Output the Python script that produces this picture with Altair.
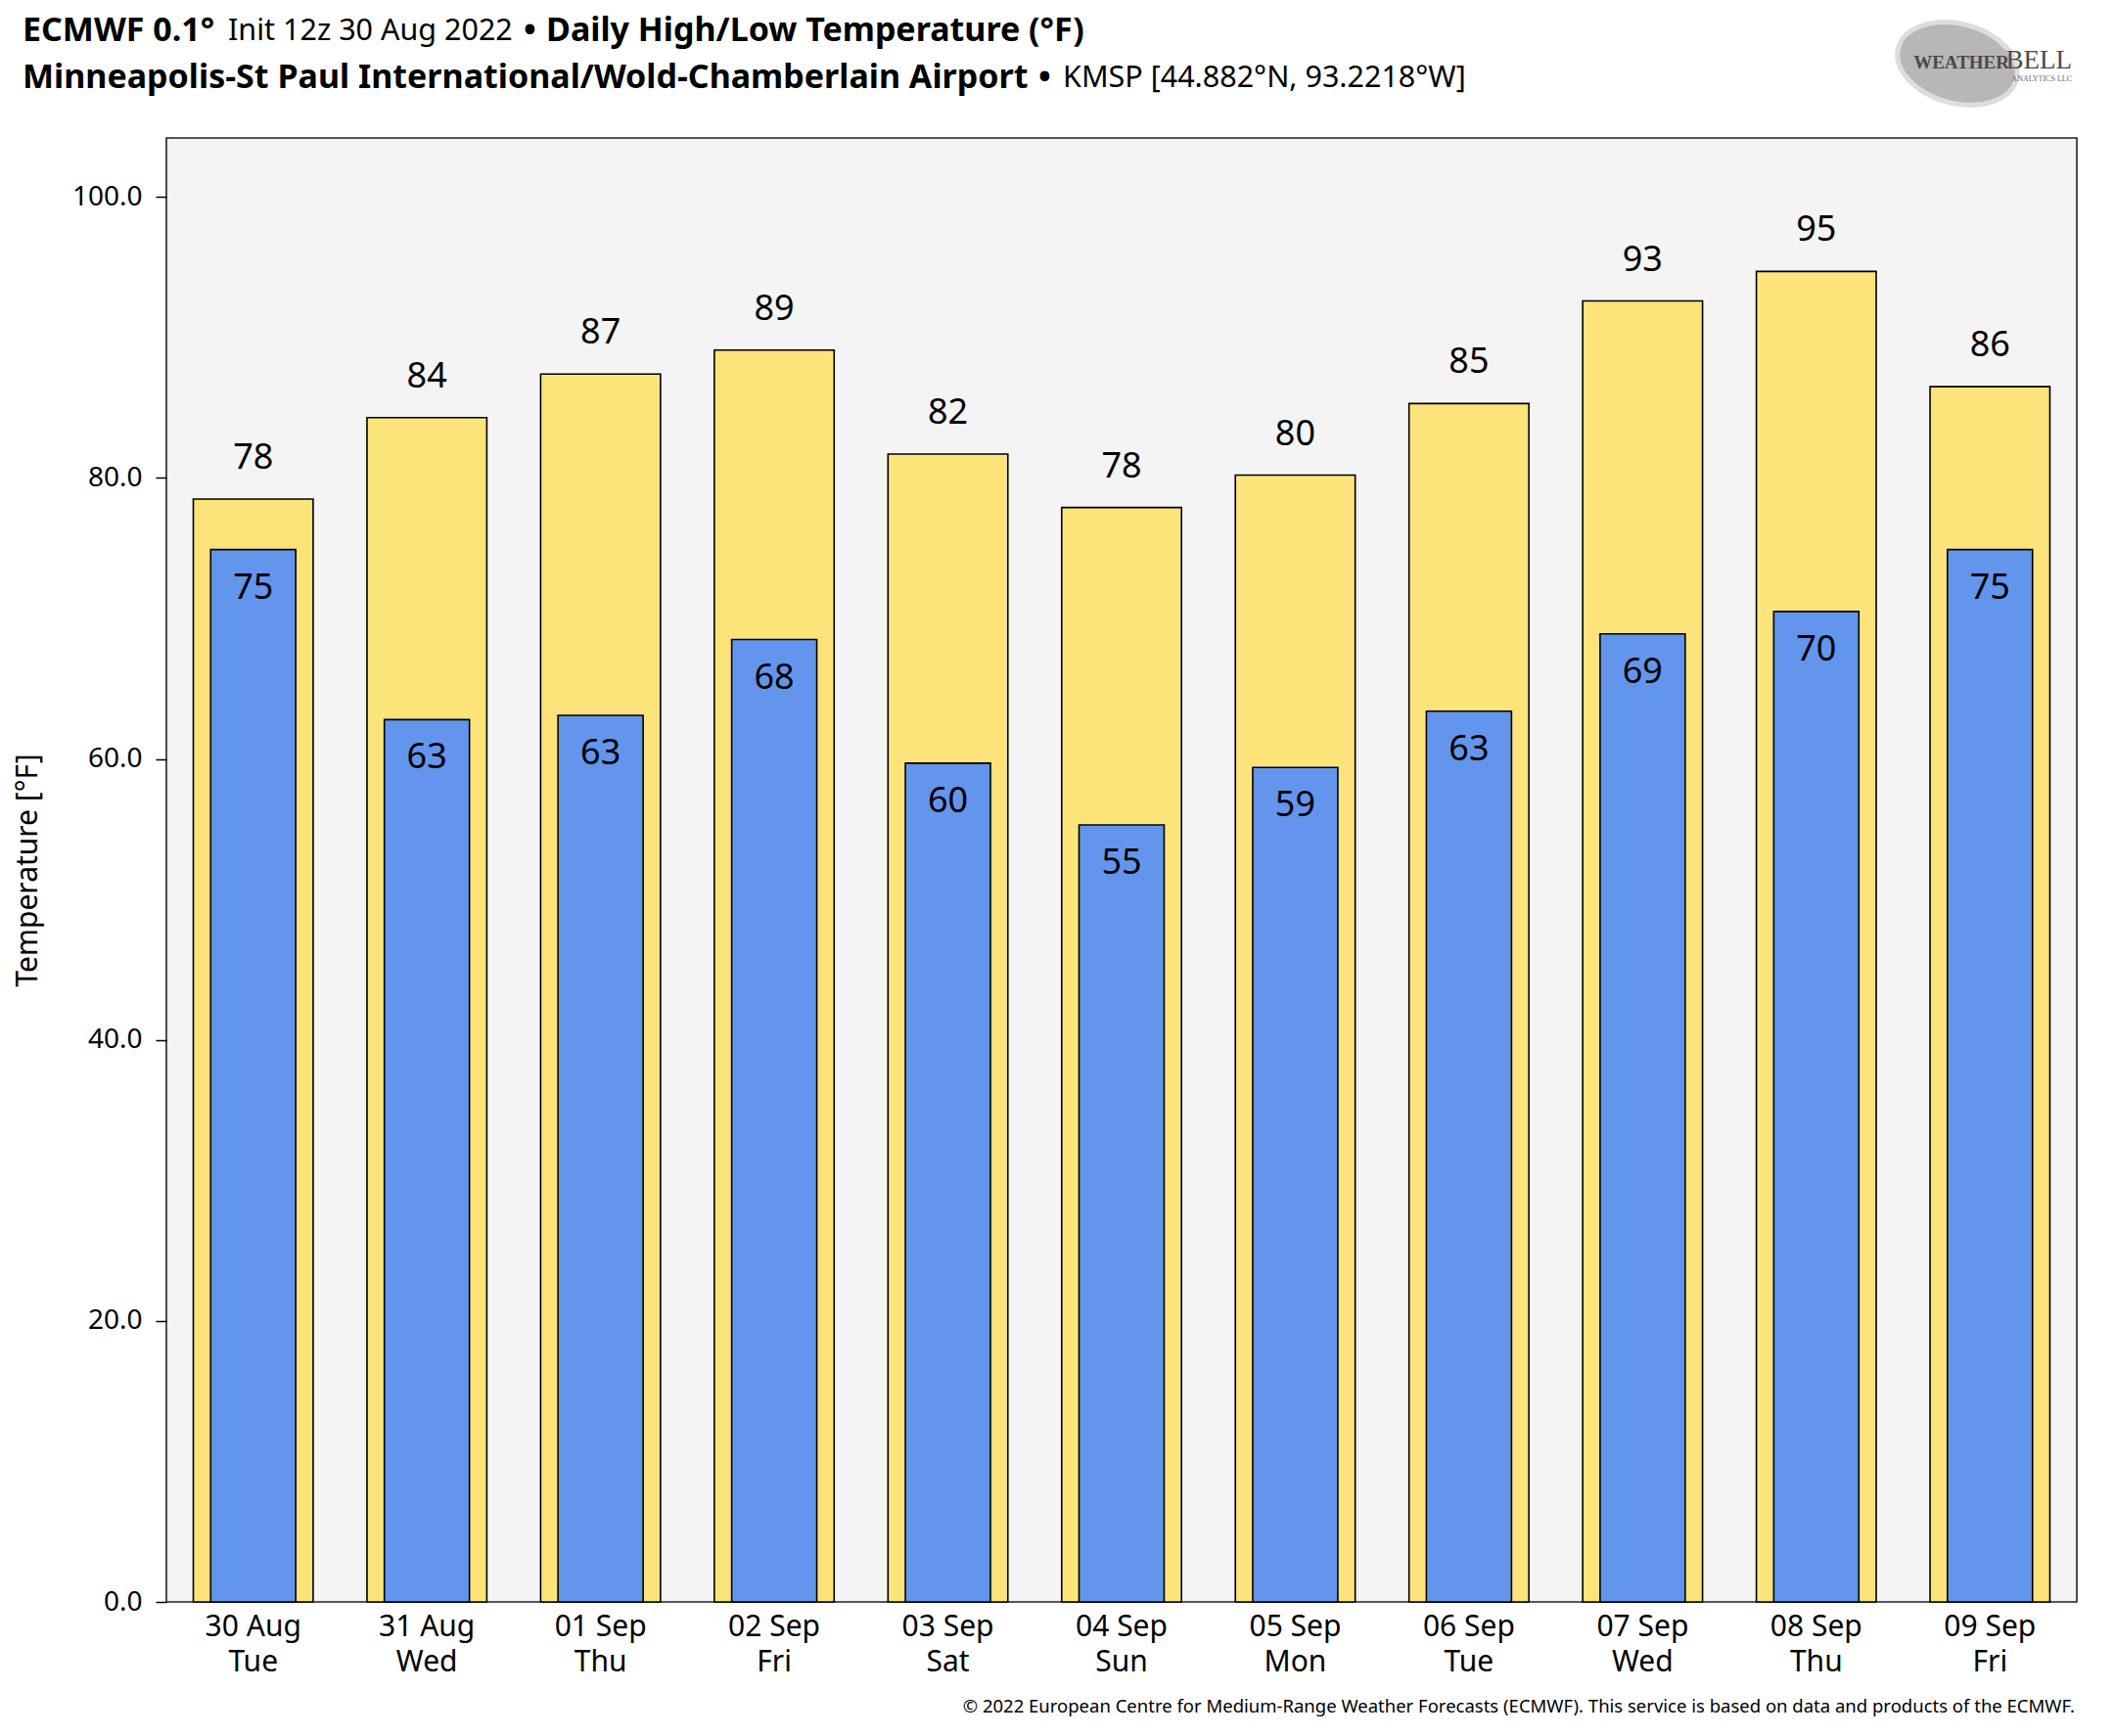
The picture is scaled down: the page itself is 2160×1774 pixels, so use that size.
import altair as alt
import pandas as pd

dates = ["30 Aug", "31 Aug", "01 Sep", "02 Sep", "03 Sep", "04 Sep",
         "05 Sep", "06 Sep", "07 Sep", "08 Sep", "09 Sep"]
days = ["Tue", "Wed", "Thu", "Fri", "Sat", "Sun", "Mon", "Tue", "Wed", "Thu", "Fri"]
highs = [78.5, 84.3, 87.4, 89.1, 81.7, 77.9, 80.2, 85.3, 92.6, 94.7, 86.5]
lows = [74.9, 62.8, 63.1, 68.5, 59.7, 55.3, 59.4, 63.4, 68.9, 70.5, 74.9]
high_labels = ["78", "84", "87", "89", "82", "78", "80", "85", "93", "95", "86"]
low_labels = ["75", "63", "63", "68", "60", "55", "59", "63", "69", "70", "75"]
y_ticks = [0, 20, 40, 60, 80, 100]

cats = [f"{d}|{w}" for d, w in zip(dates, days)]
df = pd.DataFrame({"cat": cats, "high": highs, "low": lows,
                   "hl": high_labels, "ll": low_labels})

W, H = 1952, 1496
FONT = "Noto Sans"

x = alt.X("cat:N", sort=cats, title=None,
          scale=alt.Scale(paddingInner=0, paddingOuter=0),
          axis=alt.Axis(labelExpr="split(datum.label, '|')", labelAngle=0,
                        labelFontSize=30, labelColor="black", labelFont=FONT,
                        labelLineHeight=36, labelPadding=10, ticks=False,
                        domain=False, labelBaseline="top"))
yscale = alt.Scale(domain=[0, 104.2], nice=False, zero=True)
yaxis = alt.Axis(values=y_ticks, format=".1f", grid=False, domain=False,
                 tickSize=11, tickColor="black", tickWidth=1.5,
                 labelFontSize=28, labelColor="black", labelFont=FONT, labelPadding=14,
                 title="Temperature [°F]", titleFontSize=30, titleFontWeight="normal",
                 titleFont=FONT, titleColor="black", titleX=-142, titleY=H / 2,
                 titleAngle=270, titleAlign="center", titleBaseline="middle")

base = alt.Chart(df)
high_bars = base.mark_bar(width=alt.RelativeBandSize(0.69), color="#FDE47A",
                          stroke="black", strokeWidth=1.6).encode(
    x=x, y=alt.Y("high:Q", scale=yscale, axis=yaxis))
low_bars = base.mark_bar(width=alt.RelativeBandSize(0.49), color="#6495ED",
                         stroke="black", strokeWidth=1.6).encode(
    x=x, y=alt.Y("low:Q", scale=yscale))
high_text = base.mark_text(fontSize=36, font=FONT, baseline="alphabetic", dy=-31,
                           color="black").encode(
    x=x, y=alt.Y("high:Q", scale=yscale), text="hl:N")
low_text = base.mark_text(fontSize=36, font=FONT, baseline="alphabetic", dy=50,
                          color="black").encode(
    x=x, y=alt.Y("low:Q", scale=yscale), text="ll:N")


def label(text, xp, yp, size, weight="normal", align="left", color="black",
          font=FONT, baseline="middle"):
    return alt.Chart(pd.DataFrame({"t": [text]})).mark_text(
        fontSize=size, fontWeight=weight, align=align, baseline=baseline,
        color=color, font=font).encode(
        x=alt.value(xp), y=alt.value(yp), text="t:N")


TB, TN = 34, 30.5
title_parts = [
    label("ECMWF 0.1°", -147, -109, TB, "bold"),
    label("Init 12z 30 Aug 2022", 63, -109, TN),
    label("•", 365, -109, TB, "bold"),
    label("Daily High/Low Temperature (°F)", 388, -109, TB, "bold"),
    label("Minneapolis-St Paul International/Wold-Chamberlain Airport", -147, -61, TB, "bold"),
    label("•", 891, -61, TB, "bold"),
    label("KMSP [44.882°N, 93.2218°W]", 916, -61, TN),
    label("© 2022 European Centre for Medium-Range Weather Forecasts (ECMWF). "
          "This service is based on data and products of the ECMWF.",
          W - 2, H + 107, 18.5, align="right"),
]

logo_ellipse = alt.Chart(pd.DataFrame({"t": [1]})).mark_point(
    shape="M-1,0A1,0.65 0 1,0 1,0A1,0.65 0 1,0 -1,0Z", filled=True,
    color="#B0B0B0", opacity=0.9, size=15600, angle=15,
    stroke="#DADADA", strokeWidth=5).encode(x=alt.value(1830), y=alt.value(-76))
logo_w = label("WEATHER", 1883, -71, 19, "bold", align="right",
               color="#4A4A4A", font="Liberation Serif", baseline="alphabetic")
logo_b = label("BELL", 1947, -71, 27, "normal", align="right",
               color="#4A4A4A", font="Liberation Serif", baseline="alphabetic")
logo_sub = label("ANALYTICS LLC", 1947, -60, 8, align="right",
                 color="#666666", font="Liberation Serif")

chart = alt.layer(high_bars, low_bars, high_text, low_text,
                  logo_ellipse, logo_w, logo_b, logo_sub, *title_parts).properties(
    width=W, height=H,
    autosize=alt.AutoSizeParams(type="none"),
    padding={"left": 162, "top": 133, "right": 5, "bottom": 125},
    background="white",
).configure(font=FONT).configure_view(
    fill="#F4F4F4", stroke="#222222", strokeWidth=1.6)

chart.save("out.html", embed_options={"renderer": "svg", "actions": False})
